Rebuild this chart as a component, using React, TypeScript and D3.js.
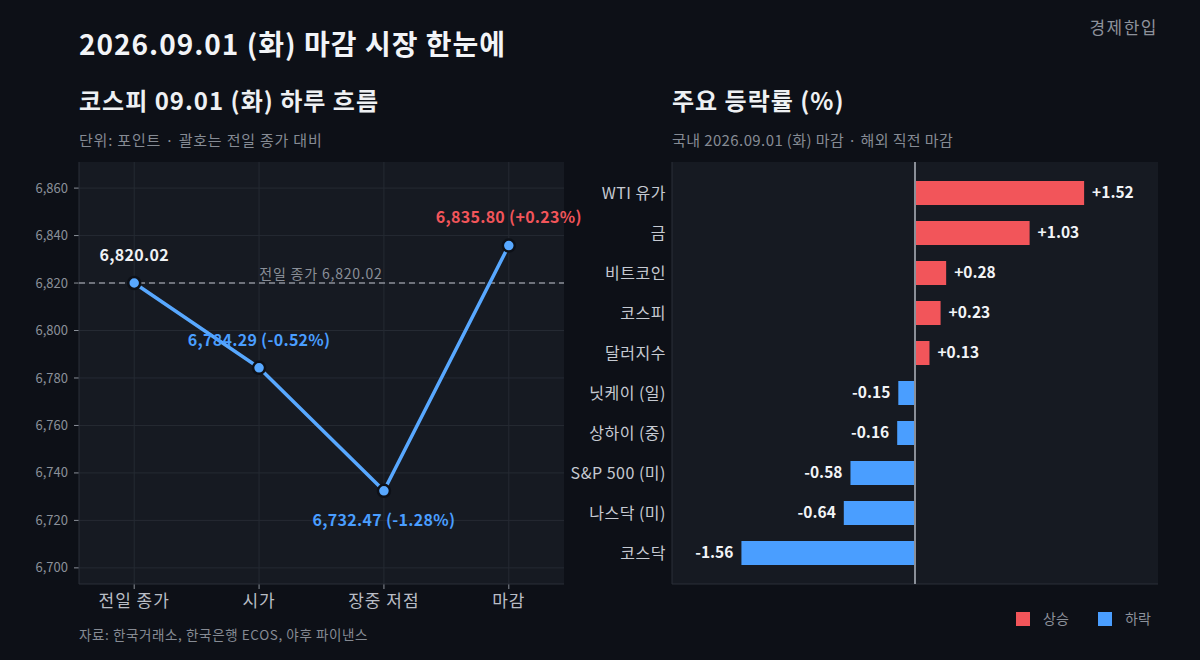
import React from "react";
import * as d3 from "d3";

const W = 1200;
const H = 660;

const stepLabels = ["전일 종가", "시가", "장중 저점", "마감"];
const stepValues = [6820.02, 6784.29, 6732.47, 6835.8];
const stepPctLabels = ["6,820.02", "6,784.29 (-0.52%)", "6,732.47 (-1.28%)", "6,835.80 (+0.23%)"];
const yTicks = [6700, 6720, 6740, 6760, 6780, 6800, 6820, 6840, 6860];
const prevClose = 6820.02;

const assetNames = ["WTI 유가", "금", "비트코인", "코스피", "달러지수", "닛케이 (일)", "상하이 (중)", "S&P 500 (미)", "나스닥 (미)", "코스닥"];
const assetChanges = [1.52, 1.03, 0.28, 0.23, 0.13, -0.15, -0.16, -0.58, -0.64, -1.56];

const BG = "#0d1017";
const PLOT_BG = "#161a22";
const GRID = "#252a33";
const RED = "#f2555a";
const BLUE = "#4a9eff";
const LINE_BLUE = "#58a8ff";
const FONT = "'Noto Sans CJK KR', 'Noto Sans', sans-serif";

export default function App() {
  // left panel
  const L = { x0: 79, x1: 564, y0: 162, y1: 584 };
  const x = d3.scalePoint<string>().domain(stepLabels).range([L.x0, L.x1]).padding(0.442);
  const y = d3.scaleLinear().domain([6693.2, 6871]).range([L.y1, L.y0]);
  const line = d3
    .line<number>()
    .x((_, i) => x(stepLabels[i]) as number)
    .y((d) => y(d));

  // right panel
  const R = { x0: 672, x1: 1158, y0: 162, y1: 584 };
  const maxAbs = d3.max(assetChanges, (d) => Math.abs(d)) as number;
  const xb = d3.scaleLinear().domain([-maxAbs * 1.4, maxAbs * 1.4]).range([R.x0, R.x1]);
  const yb = d3.scaleBand<string>().domain(assetNames).range([R.y0, R.y1]).paddingInner(0.4).paddingOuter(0.475);

  const labelOffsets = [-22, -22, 35, -23];
  const labelColors = ["#f0f2f5", BLUE, BLUE, RED];
  const fmtPct = (v: number) => (v > 0 ? "+" : "") + v.toFixed(2);

  return (
    <svg width={W} height={H} style={{ display: "block", position: "absolute", left: 0, top: 0, fontFamily: FONT }}>
      <rect x={0} y={0} width={W} height={H} fill={BG} />
      <text x={79} y={55} fontSize={28} fontWeight={700} letterSpacing={1} fill="#f2f4f7">2026.09.01 (화) 마감 시장 한눈에</text>
      <text x={1158} y={34} fontSize={17} letterSpacing={1.5} fill="#8d929b" textAnchor="end">경제한입</text>

      {/* Left panel */}
      <text x={79} y={110} fontSize={24} fontWeight={700} letterSpacing={1} fill="#eef0f3">코스피 09.01 (화) 하루 흐름</text>
      <text x={79} y={146} fontSize={15} letterSpacing={0.8} fill="#868b94">단위: 포인트 · 괄호는 전일 종가 대비</text>
      <rect x={L.x0} y={L.y0} width={L.x1 - L.x0} height={L.y1 - L.y0} fill={PLOT_BG} />
      {yTicks.map((t) => (
        <g key={t}>
          <line x1={L.x0} x2={L.x1} y1={y(t)} y2={y(t)} stroke={GRID} strokeWidth={1} />
          <line x1={L.x0 - 5} x2={L.x0} y1={y(t)} y2={y(t)} stroke="#8b9099" strokeWidth={1} />
          <text x={L.x0 - 11} y={y(t)} dy="0.35em" fontSize={13} fill="#8b9099" textAnchor="end">
            {d3.format(",")(t)}
          </text>
        </g>
      ))}
      {stepLabels.map((c) => (
        <g key={c}>
          <line x1={x(c)} x2={x(c)} y1={L.y0} y2={L.y1} stroke={GRID} strokeWidth={1} />
          <line x1={x(c)} x2={x(c)} y1={L.y1} y2={L.y1 + 5} stroke="#8b9099" strokeWidth={1} />
          <text x={x(c)} y={607} fontSize={17} letterSpacing={1} fill="#b9bdc5" textAnchor="middle">{c}</text>
        </g>
      ))}
      <line x1={L.x0} x2={L.x0} y1={L.y0} y2={L.y1} stroke="#2a2f38" />
      <line x1={L.x0} x2={L.x1} y1={L.y1} y2={L.y1} stroke="#2a2f38" />
      <line x1={L.x0} x2={L.x1} y1={y(prevClose)} y2={y(prevClose)} stroke="#8a8f98" strokeWidth={1.5} strokeDasharray="6,4" />
      <text x={321} y={y(prevClose) - 4} fontSize={14} letterSpacing={0.8} fill="#8a8f98" textAnchor="middle">
        전일 종가 {d3.format(",.2f")(prevClose)}
      </text>
      <path d={line(stepValues) as string} fill="none" stroke={LINE_BLUE} strokeWidth={3.5} strokeLinejoin="round" />
      {stepValues.map((v, i) => (
        <circle key={i} cx={x(stepLabels[i])} cy={y(v)} r={6} fill={LINE_BLUE} stroke={BG} strokeWidth={2.5} />
      ))}
      {stepValues.map((v, i) => (
        <text key={"l" + i} x={x(stepLabels[i])} y={y(v) + labelOffsets[i]} fontSize={16} letterSpacing={0.3} fontWeight={700} fill={labelColors[i]} textAnchor="middle">
          {stepPctLabels[i]}
        </text>
      ))}
      <text x={79} y={640} fontSize={13.5} letterSpacing={0.6} fill="#868b94">자료: 한국거래소, 한국은행 ECOS, 야후 파이낸스</text>

      {/* Right panel */}
      <text x={672} y={110} fontSize={24} fontWeight={700} letterSpacing={1} fill="#eef0f3">주요 등락률 (%)</text>
      <text x={672} y={146} fontSize={15} letterSpacing={0.4} fill="#868b94">국내 2026.09.01 (화) 마감 · 해외 직전 마감</text>
      <rect x={R.x0} y={R.y0} width={R.x1 - R.x0} height={R.y1 - R.y0} fill={PLOT_BG} />
      <line x1={R.x0} x2={R.x0} y1={R.y0} y2={R.y1} stroke="#2a2f38" />
      <line x1={R.x0} x2={R.x1} y1={R.y1} y2={R.y1} stroke="#2a2f38" />
      {assetNames.map((n, i) => {
        const v = assetChanges[i];
        const y0 = yb(n) as number;
        const bx = Math.min(xb(0), xb(v));
        const bw = Math.abs(xb(v) - xb(0));
        const cy = y0 + yb.bandwidth() / 2;
        return (
          <g key={n}>
            <rect x={bx} y={y0} width={bw} height={yb.bandwidth()} fill={v >= 0 ? RED : BLUE} />
            <text x={v >= 0 ? xb(v) + 8 : xb(v) - 8} y={cy} dy="0.35em" fontSize={15.5} fontWeight={700} fill="#f2f4f7" textAnchor={v >= 0 ? "start" : "end"}>
              {fmtPct(v)}
            </text>
            <text x={666} y={cy} dy="0.35em" fontSize={16} letterSpacing={0.5} fill="#c6cad2" textAnchor="end">{n}</text>
          </g>
        );
      })}
      <line x1={xb(0)} x2={xb(0)} y1={R.y0} y2={R.y1} stroke="#8a8f98" strokeWidth={2} />

      {/* Legend */}
      <rect x={1016} y={612} width={14} height={14} fill={RED} />
      <text x={1043} y={619} dy="0.35em" fontSize={14} fill="#8d929b">상승</text>
      <rect x={1098} y={612} width={14} height={14} fill={BLUE} />
      <text x={1125} y={619} dy="0.35em" fontSize={14} fill="#8d929b">하락</text>
    </svg>
  );
}
